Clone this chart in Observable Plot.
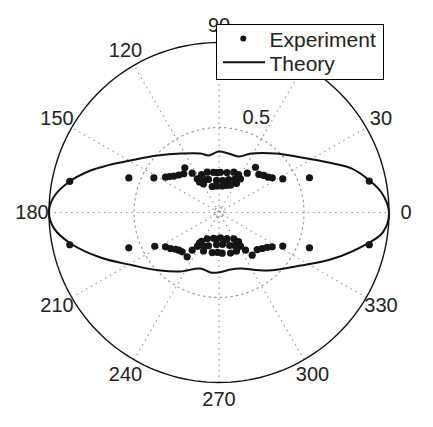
<!DOCTYPE html>
<html><head><meta charset="utf-8">
<script src="https://cdn.jsdelivr.net/npm/d3@7"></script>
<script src="https://cdn.jsdelivr.net/npm/@observablehq/plot@0.6"></script>
<style>
body{margin:0;background:#fff;}
#wrap{position:relative;width:433px;height:427px;font-family:"Liberation Sans",Arial,sans-serif;}
#legend{position:absolute;left:216px;top:24px;width:166px;height:54px;border:1px solid #000;background:#fff;}
#legend text{font-family:"Liberation Sans",Arial,sans-serif;font-size:21px;fill:#222;}
</style></head><body><div id="wrap"></div>
<script>
// Experiment (angle in degrees, normalized radius)
const expAngle = [168.2,159.0,152.0,146.6,144.0,141.2,137.1,132.3,127.4,124.3,
  122.9,114.7,106.3,97.8,87.9,78.7,69.8,62.8,57.5,58.9,67.3,83.1,104.7,118.4,107.6,73.9,
  114.8,94.5,83.8,64.8,95.4,74.5,92.1,122.6,
  54.3,51.1,43.7,39.6,35.7,33.1,27.8,21.0,11.8,
  192.2,201.4,207.7,212.7,216.6,220.2,223.2,226.9,234.3,234.6,
  237.5,238.9,245.8,257.9,273.4,287.1,299.4,303.9,302.5,294.4,285.9,274.5,260.4,248.1,252.5,287.9,
  245.2,265.5,276.2,295.2,264.6,285.5,267.9,237.4,
  305.1,307.9,315.9,320.2,324.0,327.2,332.2,338.7,347.9];
const expRadius = [0.897,0.568,0.434,0.377,0.360,0.341,0.323,0.308,0.331,0.280,
  0.236,0.246,0.247,0.238,0.237,0.240,0.253,0.251,0.235,0.199,0.175,0.157,0.158,0.192,0.204,0.202,
  0.217,0.189,0.189,0.215,0.157,0.165,0.235,0.213,
  0.285,0.342,0.324,0.342,0.356,0.374,0.424,0.570,0.903,
  0.898,0.570,0.427,0.374,0.355,0.335,0.324,0.317,0.321,0.272,
  0.235,0.199,0.170,0.155,0.149,0.160,0.178,0.206,0.235,0.249,0.248,0.240,0.239,0.244,0.205,0.204,
  0.217,0.189,0.189,0.215,0.157,0.165,0.235,0.213,
  0.271,0.318,0.313,0.331,0.350,0.372,0.424,0.571,0.904];
// Theory curve
const theoryAngle = [0,7.0,12.4,18.4,24.5,33.7,46.2,61.2,70.8,80.9,90.5,100.4,107.4,123.1,137.2,149.6,157.1,161.9,168.3,174.8,
  180,185.5,191.8,200.8,211.8,224.8,236.9,251.7,261.9,269.5,281.4,291.0,309.9,326.9,338.1,348.2,353.0];
const theoryRadius = [1.0,0.963,0.90,0.821,0.708,0.583,0.481,0.396,0.349,0.352,0.359,0.341,0.364,0.414,0.493,0.604,0.712,0.795,0.898,0.978,
  1.0,0.975,0.892,0.746,0.592,0.485,0.414,0.347,0.356,0.353,0.342,0.353,0.445,0.572,0.726,0.892,0.97];
const angleTicks = [0,30,60,90,120,150,180,210,240,270,300,330];
const spokeAngles = [0,30,60,90,120,150];
const ringTicks = [0.5, 1];
const innerRing = [0.03];
const seriesNames = ["Experiment", "Theory"];

const rad = a => a * Math.PI / 180;
const exp = expAngle.map((a, i) => ({a, r: expRadius[i]}));
const theory = theoryAngle.map((a, i) => ({a, r: theoryRadius[i]}));
const circ = d3.range(0, 361, 2);
const ringPts = (r) => circ.map(a => ({a, r}));
const rmax = d3.max(ringTicks);
const dotted = {stroke: "#9a9a9a", strokeWidth: 1.2, strokeDasharray: "1.5,4"};

const plot = Plot.plot({
  width: 433, height: 427,
  marginLeft: 48.5, marginRight: 44.5, marginTop: 42, marginBottom: 45,
  x: {domain: [-1, 1], axis: null},
  y: {domain: [-1, 1], axis: null},
  style: {fontFamily: '"Liberation Sans", Arial, sans-serif', background: "white", overflow: "visible"},
  marks: [
    Plot.link(spokeAngles, {x1: a => -rmax*Math.cos(rad(a)), y1: a => -rmax*Math.sin(rad(a)),
      x2: a => rmax*Math.cos(rad(a)), y2: a => rmax*Math.sin(rad(a)), ...dotted}),
    ...ringTicks.filter(r => r < rmax).concat(innerRing).map(r =>
      Plot.line(ringPts(r), {x: d => d.r*Math.cos(rad(d.a)), y: d => d.r*Math.sin(rad(d.a)), ...dotted})),
    Plot.line(ringPts(rmax), {x: d => d.r*Math.cos(rad(d.a)), y: d => d.r*Math.sin(rad(d.a)), stroke: "#111", strokeWidth: 1.4}),
    Plot.line(theory, {x: d => d.r*Math.cos(rad(d.a)), y: d => d.r*Math.sin(rad(d.a)),
      curve: "catmull-rom-closed", stroke: "#111", strokeWidth: 2}),
    Plot.dot(exp, {x: d => d.r*Math.cos(rad(d.a)), y: d => d.r*Math.sin(rad(d.a)), r: 3.6, fill: "#151515", stroke: "none"}),
    Plot.text(angleTicks, {x: a => 1.1*rmax*Math.cos(rad(a)), y: a => 1.1*rmax*Math.sin(rad(a)),
      text: a => String(a), fontSize: 20, fill: "#222", textAnchor: "middle"}),
    Plot.text(ringTicks, {x: r => (r + 0.025)*Math.cos(rad(82)), y: r => (r + 0.025)*Math.sin(rad(82)),
      text: r => String(r), fontSize: 20, fill: "#222", textAnchor: "start", lineAnchor: "bottom", dx: 11})
  ]
});
const wrap = document.getElementById("wrap");
wrap.appendChild(plot);

// Legend
const leg = document.createElement("div");
leg.id = "legend";
const svg = d3.create("svg").attr("width", 166).attr("height", 54);
svg.append("circle").attr("cx", 26.3).attr("cy", 13.5).attr("r", 3).attr("fill", "#151515");
svg.append("line").attr("x1", 6).attr("x2", 48).attr("y1", 37.3).attr("y2", 37.3).attr("stroke", "#111").attr("stroke-width", 2);
svg.append("text").attr("x", 52.5).attr("y", 22).text(seriesNames[0]);
svg.append("text").attr("x", 52.5).attr("y", 46).text(seriesNames[1]);
leg.appendChild(svg.node());
wrap.appendChild(leg);
</script>
</body></html>
